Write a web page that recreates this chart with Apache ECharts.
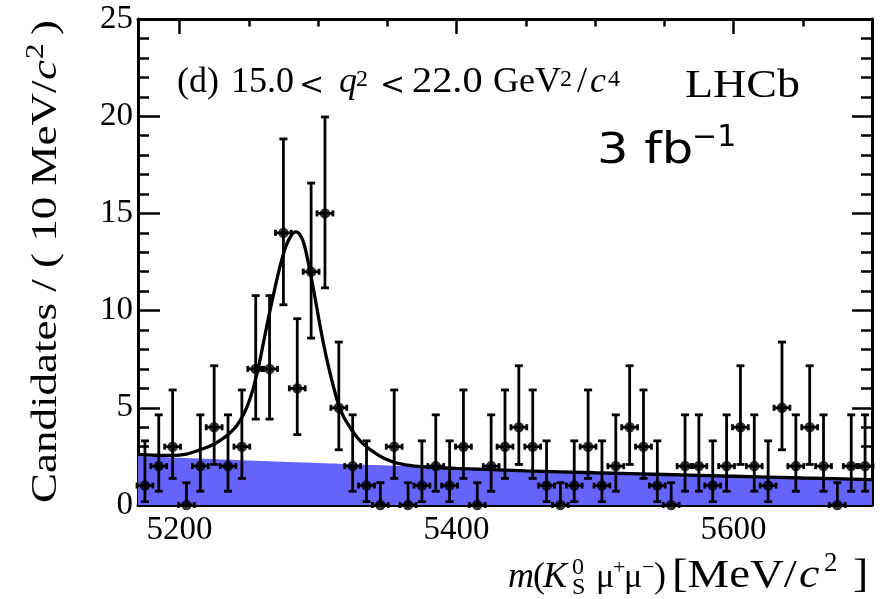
<!DOCTYPE html>
<html><head><meta charset="utf-8">
<script src="https://cdn.jsdelivr.net/npm/echarts@6/dist/echarts.min.js"></script>
<style>html,body{margin:0;padding:0;background:#fff}#c{width:888px;height:599px}</style>
</head><body><div id="c"></div>
<script>
// ---- data ----
const binCenters = [5175,5185,5195,5205,5215,5225,5235,5245,5255,5265,5275,5285,5295,5305,5315,5325,5335,5345,5355,5365,5375,5385,5395,5405,5415,5425,5435,5445,5455,5465,5475,5485,5495,5505,5515,5525,5535,5545,5555,5565,5575,5585,5595,5605,5615,5625,5635,5645,5655,5665,5675,5685,5695];
const counts = [1,2,3,0,2,4,2,3,7,7,14,6,12,15,5,2,1,0,3,0,1,2,1,3,0,2,3,4,3,1,0,1,3,1,2,4,3,1,0,2,2,1,2,4,2,1,5,2,4,2,0,2,2];
const binHalfWidth = 5;
// 68% Poisson interval per observed count (index = count)
const poissonLo = [0,0.173,0.708,1.367,2.086,2.840,3.620,4.419,5.232,6.057,6.891,7.734,8.585,9.441,10.30,11.17];
const poissonHi = [1.148,3.300,4.638,5.918,7.163,8.382,9.584,10.77,11.95,13.11,14.27,15.42,16.56,17.70,18.83,19.96];
// fit curve (total)
const fitX = [5170,5182,5193,5205,5218,5226,5232,5237,5241,5245,5249,5253,5257,5261,5265,5269,5273,5277,5281,5284,5287,5290,5294,5298,5302,5306,5310,5314,5318,5323,5328,5333,5339,5345,5351,5357,5370,5385,5400,5420,5450,5500,5550,5600,5650,5700];
const fitY = [2.60,2.56,2.55,2.62,2.92,3.18,3.45,3.75,4.05,4.5,5.1,5.95,7.1,8.5,9.9,11.2,12.4,13.35,13.9,14.05,13.9,13.4,12.1,10.6,9.0,7.6,6.4,5.35,4.6,4.0,3.5,3.12,2.78,2.5,2.3,2.15,2.0,1.93,1.88,1.83,1.76,1.66,1.57,1.48,1.39,1.31];
// background component (blue area)
const bkgX = [5170,5200,5250,5300,5350,5400,5450,5500,5550,5600,5650,5700];
const bkgY = [2.52,2.43,2.29,2.16,2.03,1.90,1.79,1.69,1.59,1.49,1.40,1.32];
// axis ticks
const xLabelVals = [5200,5400,5600];
const xMinorVals = [5200,5250,5300,5350,5400,5450,5500,5550,5600,5650,5700];

// ---- build ----
const FONT = 'Liberation Serif';
const pts = binCenters.map((x,i)=>[x, counts[i], poissonLo[counts[i]], poissonHi[counts[i]]]);
const zip = (a,b)=>a.map((v,i)=>[v,b[i]]);

function T(x, base, text, size, o) {
  o = o || {};
  return {type:'text', x:x, y: base - 0.3*size, scaleX:o.sx||1, z:100,
    style:{text:text, fontFamily:o.fam||FONT, fontSize:size, fontStyle:o.it?'italic':'normal',
      fill:'#000', verticalAlign:'middle', align:o.align||'left'}};
}
function R(x, text, size, o) {
  o = o || {};
  return {type:'text', x:x, y:(o.dy||0) - 0.3*size, scaleX:o.sx||1,
    style:{text:text, fontFamily:FONT, fontSize:size, fontStyle:o.it?'italic':'normal',
      fill:'#000', verticalAlign:'middle'}};
}

const tickStyle = {color:'#000', width:2.5};
function xAx(pos, vals, len, labels) {
  return {type:'value', min:5170, max:5700, position:pos,
    axisLine:{show:labels, lineStyle:{color:'#000', width:3}},
    axisTick:{show:true, inside:true, length:len, customValues:vals, lineStyle:tickStyle},
    axisLabel:{show:labels && pos==='bottom', customValues:xLabelVals, formatter:v=>String(v),
      fontFamily:FONT, fontSize:33, color:'#000', margin:9},
    splitLine:{show:false}};
}
function yAx(pos, len, labels) {
  return {type:'value', min:0, max:25, interval:5, position:pos,
    axisLine:{show:true, lineStyle:{color:'#000', width:3}},
    axisTick:{show:true, inside:true, length:len, lineStyle:tickStyle},
    minorTick:{show:true, splitNumber:5, length:11, lineStyle:tickStyle},
    axisLabel:{show:labels, fontFamily:FONT, fontSize:33, color:'#000', margin:5},
    splitLine:{show:false}, minorSplitLine:{show:false}};
}

const YS = 1.25;
const graphics = [
  // panel label
  T(177,93,'(d)',36), T(231,93,'15.0',36), T(299,95,'<',30,{fam:'DejaVu Serif'}), T(339,93,'q',36,{it:1}),
  T(356,87,'2',24), T(380,95,'<',30,{fam:'DejaVu Serif'}), T(412,93,'22.0',36,{sx:1.12}), T(493,93,'GeV',36),
  T(560,87,'2',24), T(577,93,'/',36), T(590,93,'c',36,{it:1}), T(608,87,'4',24),
  T(685,98,'LHCb',40,{sx:1.15}),
  T(597,165,'3 fb',42,{fam:'DejaVu Sans', sx:1.18}), T(692,147,'\u22121',30,{fam:'DejaVu Sans'}),
  // x title
  T(508,588,'m',36,{it:1}), T(533,588,'(',36), T(543,588,'K',36,{it:1}),
  T(572,575,'0',24), T(572,595,'S',24), T(596,588,'\u03bc',34), T(613,575,'+',22),
  T(624,588,'\u03bc',34), T(642,575,'\u2212',22), T(654,588,')',36),
  T(672,588,'[MeV/',40,{sx:1.17}), T(799,588,'c',40,{it:1, sx:1.15}), T(824,572,'2',27), T(853,588,']',40,{sx:1.15}),
  // y title (rotated, reads bottom to top)
  {type:'group', x:57, y:503, rotation:Math.PI/2, z:100, children:[
    R(0,'Candidates / ( 10 MeV/',36,{sx:YS}),
    R(423,'c',36,{it:1, sx:YS}),
    R(444,'2',25,{dy:-13, sx:YS}),
    R(468,')',36,{sx:YS})
  ]}
];

const chart = echarts.init(document.getElementById('c'), null, {renderer:'canvas'});
chart.setOption({
  animation:false,
  backgroundColor:'#fff',
  grid:{left:138, right:16, top:19, bottom:94},
  xAxis:[xAx('bottom', xLabelVals, 15, true), xAx('bottom', xMinorVals, 7.5, false),
         xAx('top', xLabelVals, 15, true), xAx('top', xMinorVals, 7.5, false)],
  yAxis:[yAx('left', 22, true), yAx('right', 20, false)],
  series:[
    {type:'line', data:zip(bkgX,bkgY), smooth:true, showSymbol:false, symbol:'none',
      lineStyle:{width:0}, areaStyle:{color:'#6464fc', opacity:1}, z:1},
    {type:'line', data:zip(fitX,fitY), smooth:0.3, showSymbol:false, symbol:'none',
      lineStyle:{color:'#000', width:3.3}, z:3},
    {type:'custom', data:pts, z:4, clip:false,
      renderItem:function(params, api){
        const x=api.value(0), y=api.value(1), lo=api.value(2), hi=api.value(3);
        const c=api.coord([x,y]), l=api.coord([x-binHalfWidth,y]), r=api.coord([x+binHalfWidth,y]);
        const pl=api.coord([x,lo]), ph=api.coord([x,hi]);
        const st={stroke:'#000', lineWidth:2.8};
        const cw=4, ch=3;
        return {type:'group', children:[
          {type:'line', shape:{x1:c[0],y1:pl[1],x2:c[0],y2:ph[1]}, style:st},
          {type:'line', shape:{x1:c[0]-cw,y1:ph[1],x2:c[0]+cw,y2:ph[1]}, style:st},
          {type:'line', shape:{x1:c[0]-cw,y1:pl[1],x2:c[0]+cw,y2:pl[1]}, style:st},
          {type:'line', shape:{x1:l[0]-1,y1:c[1],x2:r[0]+1,y2:c[1]}, style:st},
          {type:'line', shape:{x1:l[0]-1,y1:c[1]-ch,x2:l[0]-1,y2:c[1]+ch}, style:st},
          {type:'line', shape:{x1:r[0]+1,y1:c[1]-ch,x2:r[0]+1,y2:c[1]+ch}, style:st}
        ]};
      }},
    {type:'scatter', data:pts.map(p=>[p[0],p[1]]), symbol:'circle', symbolSize:10.5, clip:false,
      itemStyle:{color:'#000'}, z:5}
  ],
  graphic:graphics
});
</script></body></html>
